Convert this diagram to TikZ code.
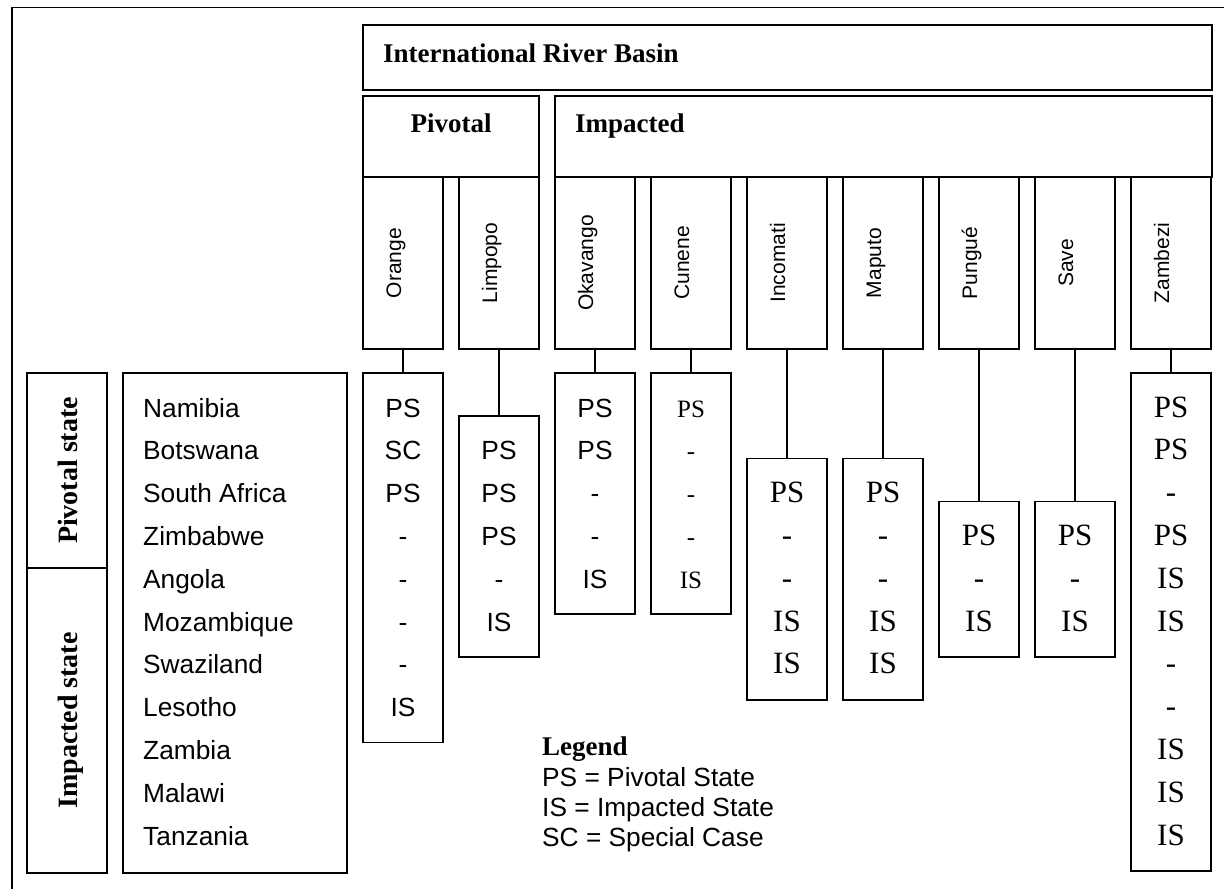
\documentclass[tikz,border=0pt]{standalone}
\usepackage{fontspec}
\setmainfont{Liberation Serif}
\setsansfont{Liberation Sans}
\usetikzlibrary{positioning}
\newcommand{\hdrfont}{\fontsize{27}{30}\selectfont\bfseries}
\newcommand{\sidefont}{\fontsize{28}{30}\selectfont\bfseries}
\newcommand{\rivfont}{\fontsize{21}{24}\selectfont\sffamily}
\newcommand{\valsf}{\fontsize{26.3}{30}\selectfont\sffamily}
\newcommand{\valrm}{\fontsize{31}{34}\selectfont\rmfamily}
\newcommand{\valsmall}{\fontsize{25}{28}\selectfont\rmfamily}
\tikzset{
  framebox/.style={draw=black, line width=1.6pt, inner sep=0pt},
  rivbox/.style={framebox, minimum width=80pt, minimum height=172pt},
  rivtext/.style={font=\rivfont, rotate=90, anchor=base, inner sep=0pt},
  sidetext/.style={font=\sidefont, rotate=90, anchor=base, inner sep=0pt},
  hdrtext/.style={font=\hdrfont, inner sep=0pt},
  cntext/.style={font=\valsf, anchor=base west, inner sep=0pt},
  valtext/.style={anchor=base, inner sep=0pt},
  link/.style={draw=black, line width=1.2pt}
}
\begin{document}
\begin{tikzpicture}[x=1pt, y=-1pt]
  \useasboundingbox (0,0) rectangle (1224,889);
  % outer frame (open to the right and below)
  \draw[line width=1.6pt] (1224,7.5) -- (12,7.5) -- (12,889);

  % headings
  \node[framebox, minimum width=849pt, minimum height=65pt] (basin) at (787.5,57.5) {};
  \node[hdrtext, anchor=base west] (basin-t) at (383,62) {International River Basin};
  \node[framebox, minimum width=176pt, minimum height=81pt] (pivotal) at (451,136.5) {};
  \node[hdrtext, anchor=base] (pivotal-t) at (451,132) {Pivotal};
  \node[framebox, minimum width=657pt, minimum height=81pt] (impacted) at (883.5,136.5) {};
  \node[hdrtext, anchor=base west] (impacted-t) at (575,132) {Impacted};

  % river boxes
  \foreach \nm/\lbl [count=\i from 0] in {orange/Orange, limpopo/Limpopo,
      okavango/Okavango, cunene/Cunene, incomati/Incomati, maputo/Maputo,
      pungue/Pungué, save/Save, zambezi/Zambezi}{
    \node[rivbox] (r-\nm) at ({403+96*\i},263) {};
    \node[rivtext] (r-\nm-t) at ({401+96*\i},263) {\lbl};
  }

  % state columns
  \foreach \nm/\i/\first/\last/\fnt/\vals in {
      orange/0/1/8/\valsf/{PS,SC,PS,-,-,-,-,IS},
      limpopo/1/2/6/\valsf/{PS,PS,PS,-,IS},
      okavango/2/1/5/\valsf/{PS,PS,-,-,IS},
      cunene/3/1/5/\valsmall/{PS,-,-,-,IS},
      incomati/4/3/7/\valrm/{PS,-,-,IS,IS},
      maputo/5/3/7/\valrm/{PS,-,-,IS,IS},
      pungue/6/4/6/\valrm/{PS,-,IS},
      save/7/4/6/\valrm/{PS,-,IS},
      zambezi/8/1/11/\valrm/{PS,PS,-,PS,IS,IS,-,-,IS,IS,IS}}{
    \pgfmathsetmacro{\bh}{(\last-\first)*42.8+70}
    \pgfmathsetmacro{\by}{408+(\first+\last-2)*21.4}
    \node[framebox, minimum width=80pt, minimum height=\bh pt] (d-\nm) at ({403+96*\i},\by) {};
    \draw[link] (r-\nm.south) -- (d-\nm.north);
    \foreach \v [count=\k from \first] in \vals
      \node[valtext, font=\fnt] at ({403+96*\i},{408+(\k-1)*42.8+9}) {\v};
  }

  % states
  \node[framebox, minimum width=80pt, minimum height=195pt] (pstate) at (67,470.5) {};
  \node[sidetext] (pstate-t) at (77,470.5) {Pivotal state};
  \node[framebox, minimum width=80pt, minimum height=305pt] (istate) at (67,720.5) {};
  \node[sidetext] (istate-t) at (77,720.5) {Impacted state};
  \node[framebox, minimum width=224pt, minimum height=500pt] (states) at (235,623) {};
  \foreach \cn [count=\k from 0] in {Namibia, Botswana, South Africa, Zimbabwe,
      Angola, Mozambique, Swaziland, Lesotho, Zambia, Malawi, Tanzania}
    \node[cntext] at (143,{417+42.8*\k}) {\cn};

  % legend
  \node[hdrtext, anchor=base west] (legend) at (542,755) {Legend};
  \node[cntext] (leg-ps) at (542,786) {PS = Pivotal State};
  \node[cntext] (leg-is) at (542,816) {IS = Impacted State};
  \node[cntext] (leg-sc) at (542,846) {SC = Special Case};
\end{tikzpicture}
\end{document}
